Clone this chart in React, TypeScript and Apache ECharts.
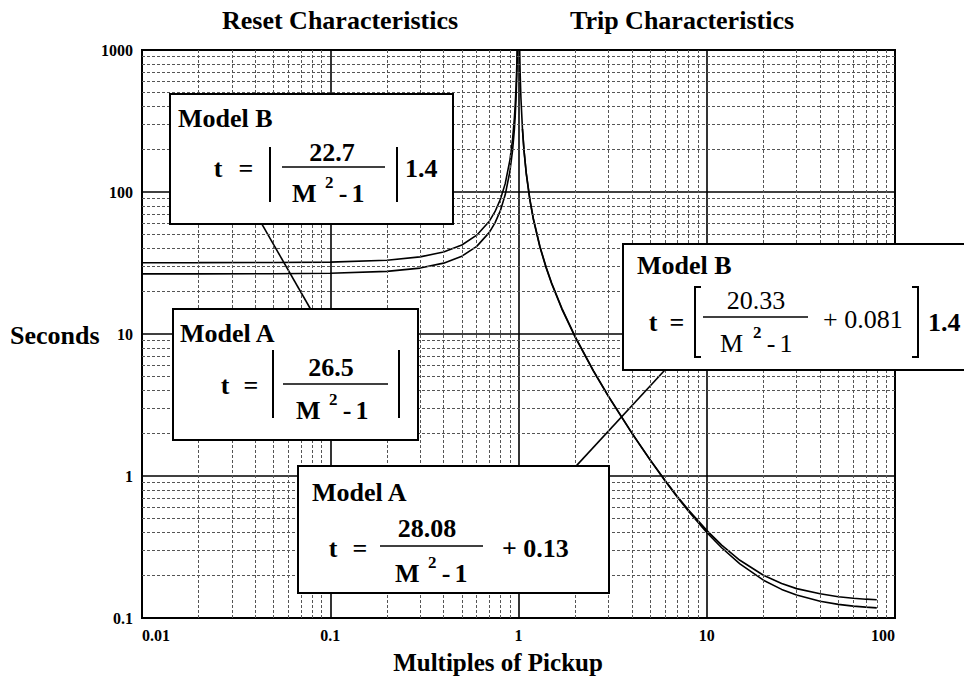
import React, { useEffect, useRef } from "react";
import * as echarts from "echarts";

// ---- data ----
const xTickLabels = ["0.01", "0.1", "1", "10", "100"];
const yTickLabels = ["0.1", "1", "10", "100", "1000"];

const minorX = [0.02, 0.03, 0.04, 0.05, 0.06, 0.07, 0.08, 0.09, 0.2, 0.3, 0.4, 0.5, 0.6, 0.7, 0.8, 0.9, 2, 3, 4, 5, 6, 7, 8, 9, 20, 30, 40, 50, 60, 70, 80, 90];
const minorY = [0.2, 0.3, 0.4, 0.5, 0.6, 0.7, 0.8, 0.9, 2, 3, 4, 5, 6, 7, 8, 9, 20, 30, 40, 50, 60, 70, 80, 90, 200, 300, 400, 500, 600, 700, 800, 900];

// Reset characteristics (M < 1)
const resetM = [0.01, 0.02, 0.05, 0.1, 0.2, 0.3, 0.4, 0.5, 0.6, 0.7, 0.75, 0.8, 0.85, 0.9, 0.93, 0.95, 0.96, 0.97, 0.98, 0.985, 0.99];
const resetA = [26.5, 26.51, 26.57, 26.77, 27.6, 29.12, 31.55, 35.33, 41.41, 51.96, 60.57, 73.61, 95.5, 139.47, 196.15, 271.79, 338.0, 448.39, 669.19, 890.0, 1331.66];
const resetB = [31.78, 31.79, 31.86, 32.1, 33.1, 34.92, 37.83, 42.37, 49.66, 62.31, 72.64, 88.28, 114.52, 167.26, 235.23, 325.95, 405.4, 537.73, 802.53, 1067.3, 1597.0];

// Trip characteristics (M > 1)
const tripAM = [1.01, 1.02, 1.03, 1.05, 1.07, 1.1, 1.15, 1.2, 1.3, 1.4, 1.5, 1.7, 2, 2.5, 3, 4, 5, 6, 7, 8, 10, 12, 15, 20, 25, 30, 40, 50, 60, 70, 80];
const tripA = [1397.1, 695.2, 461.2, 274.1, 193.92, 133.8, 87.2, 63.95, 40.83, 29.38, 22.59, 14.99, 9.49, 5.48, 3.64, 2.002, 1.3, 0.932, 0.715, 0.576, 0.414, 0.326, 0.255, 0.2, 0.175, 0.161, 0.148, 0.141, 0.1378, 0.1357, 0.1344];
const tripBM = [1.05, 1.07, 1.1, 1.15, 1.2, 1.3, 1.4, 1.5, 1.7, 2, 2.5, 3, 4, 5, 6, 7, 8, 10, 12, 15, 20, 25, 30, 40, 50, 60, 70, 80];
const tripB = [277.8, 196.5, 135.6, 88.37, 64.8, 41.36, 29.76, 22.88, 15.17, 9.6, 5.53, 3.67, 2.011, 1.299, 0.9266, 0.7064, 0.5652, 0.4009, 0.3124, 0.2405, 0.1847, 0.159, 0.1451, 0.1312, 0.1248, 0.1213, 0.1192, 0.1178];

// Leader lines (end points in data units)
const leaderResetM = [0.04, 0.085];
const leaderResetT = [71.5, 12.5];
const leaderTripM = [1.9, 6.2];
const leaderTripT = [1.074, 5.85];

const zip = (xs: number[], ys: number[]) => xs.map((x, i) => [x, ys[i]]);

const SERIF = '"Liberation Serif", "Times New Roman", serif';
const bold = (px: number) => `bold ${px}px ${SERIF}`;
const reg = (px: number) => `${px}px ${SERIF}`;

function txt(text: string, x: number, y: number, font: string, align = "left") {
  return {
    type: "text",
    x,
    y,
    z: 110,
    silent: true,
    style: {
      text,
      font,
      fill: "#000",
      textAlign: align,
      textVerticalAlign: "middle",
      align,
      verticalAlign: "middle",
    },
  };
}
function ln(x1: number, y1: number, x2: number, y2: number, w = 2) {
  return {
    type: "line",
    z: 110,
    silent: true,
    shape: { x1, y1, x2, y2 },
    style: { stroke: "#000", lineWidth: w },
  };
}
function box(x: number, y: number, width: number, height: number) {
  return {
    type: "rect",
    z: 105,
    silent: true,
    shape: { x, y, width, height },
    style: { fill: "#fff", stroke: "#000", lineWidth: 2 },
  };
}
function denom(left: number, y: number, font: string) {
  return [
    txt("M", left, y, font),
    txt("2", left + 33, y - 11, bold(17)),
    txt("-", left + 51, y, font, "center"),
    txt("1", left + 66, y, font, "center"),
  ];
}

export default function App() {
  const ref = useRef<HTMLDivElement>(null);
  useEffect(() => {
    if (!ref.current) return;
    const chart = echarts.init(ref.current, undefined, { renderer: "svg" });
    const F = bold(26);
    const graphic: any[] = [
      // titles & axis names
      txt("Reset Characteristics", 340, 20, F, "center"),
      txt("Trip Characteristics", 682, 20, F, "center"),
      txt("Seconds", 10, 335, F, "left"),
      txt("Multiples of Pickup", 498, 662, bold(25), "center"),

      // Reset Model B
      box(170, 94, 283, 130),
      txt("Model B", 178, 118, F),
      txt("t", 218, 168, F, "center"),
      txt("=", 246, 168, F, "center"),
      ln(270, 147, 270, 202),
      txt("22.7", 332, 152, F, "center"),
      ln(282, 167, 385, 167, 1.5),
      ...denom(292, 193, F),
      ln(397, 147, 397, 202),
      txt("1.4", 405, 168, F),

      // Reset Model A
      box(173, 309, 245, 131),
      txt("Model A", 180, 333, F),
      txt("t", 225, 385, F, "center"),
      txt("=", 251, 385, F, "center"),
      ln(273, 350, 273, 418),
      txt("26.5", 331, 367, F, "center"),
      ln(283, 384, 388, 384, 1.5),
      ...denom(296, 410, F),
      ln(399, 350, 399, 418),

      // Trip Model A
      box(298, 466, 311, 127),
      txt("Model A", 312, 492, F),
      txt("t", 333, 548, F, "center"),
      txt("=", 360, 548, F, "center"),
      txt("28.08", 427, 528, F, "center"),
      ln(380, 546, 483, 546, 1.5),
      ...denom(395, 573, F),
      txt("+ 0.13", 502, 548, F),

      // Trip Model B
      box(623, 244, 400, 126),
      txt("Model B", 637, 265, F),
      txt("t", 653, 322, F, "center"),
      txt("=", 677, 322, F, "center"),
      {
        type: "polyline",
        z: 110,
        silent: true,
        shape: { points: [[701, 287], [695, 287], [695, 357], [701, 357]] },
        style: { stroke: "#000", fill: null, lineWidth: 2 },
      },
      txt("20.33", 756, 300, reg(26), "center"),
      ln(703, 317, 808, 317, 1.5),
      ...denom(720, 343, reg(26)),
      txt("+ 0.081", 823, 319, reg(26)),
      {
        type: "polyline",
        z: 110,
        silent: true,
        shape: { points: [[912, 287], [918, 287], [918, 357], [912, 357]] },
        style: { stroke: "#000", fill: null, lineWidth: 2 },
      },
      txt("1.4", 928, 322, F),
    ];

    const curve = (name: string, data: number[][]) => ({
      name,
      type: "line",
      data,
      symbol: "none",
      showSymbol: false,
      clip: true,
      z: 3,
      lineStyle: { color: "#000", width: 1.6 },
    });

    chart.setOption({
      animation: false,
      grid: {
        left: 142,
        right: 69,
        top: 50,
        bottom: 60,
        show: true,
        borderColor: "#000",
        borderWidth: 2,
        backgroundColor: "#fff",
      },
      xAxis: {
        type: "log",
        logBase: 10,
        min: 0.01,
        max: 100,
        axisLine: { show: true, lineStyle: { color: "#000", width: 2 } },
        axisTick: { show: false },
        splitLine: { show: true, lineStyle: { color: "#000", width: 1.6 } },
        axisLabel: {
          color: "#000",
          fontFamily: SERIF,
          fontSize: 16,
          fontWeight: "bold",
          margin: 9,
          alignMinLabel: "left",
          alignMaxLabel: "right",
          formatter: (v: number) => xTickLabels[Math.round(Math.log10(v)) + 2] ?? "",
        },
      },
      yAxis: {
        type: "log",
        logBase: 10,
        min: 0.1,
        max: 1000,
        axisLine: { show: true, lineStyle: { color: "#000", width: 2 } },
        axisTick: { show: false },
        splitLine: { show: true, lineStyle: { color: "#000", width: 1.6 } },
        axisLabel: {
          color: "#000",
          fontFamily: SERIF,
          fontSize: 16,
          fontWeight: "bold",
          margin: 9,
          formatter: (v: number) => yTickLabels[Math.round(Math.log10(v)) + 1] ?? "",
        },
      },
      series: [
        {
          name: "minor grid",
          type: "line",
          data: [[0.01, 0.1]],
          symbol: "none",
          silent: true,
          z: 1,
          lineStyle: { opacity: 0 },
          markLine: {
            silent: true,
            symbol: ["none", "none"],
            label: { show: false },
            lineStyle: { type: [3, 2], color: "#555", width: 1 },
            emphasis: { disabled: true },
            data: [
              ...minorX.map((v) => ({ xAxis: v })),
              ...minorY.map((v) => ({ yAxis: v })),
            ],
          },
        },
        curve("Reset Model A", zip(resetM, resetA)),
        curve("Reset Model B", zip(resetM, resetB)),
        curve("Trip Model A", zip(tripAM, tripA)),
        curve("Trip Model B", zip(tripBM, tripB)),
        curve("Reset leader", zip(leaderResetM, leaderResetT)),
        curve("Trip leader", zip(leaderTripM, leaderTripT)),
      ],
      graphic,
    });
    return () => chart.dispose();
  }, []);
  return (
    <div
      ref={ref}
      style={{ position: "absolute", left: 0, top: 0, width: 964, height: 678, background: "#fff" }}
    />
  );
}
